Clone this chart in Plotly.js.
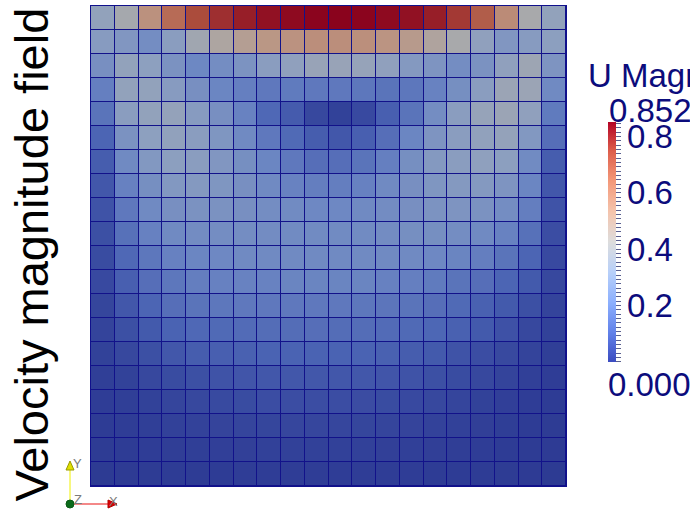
<!DOCTYPE html>
<html>
<head>
<meta charset="utf-8">
<script src="https://cdn.plot.ly/plotly-3.0.1.min.js"></script>
<style>
  html, body { margin: 0; padding: 0; background: #ffffff; }
  #chart { width: 690px; height: 516px; }
</style>
</head>
<body>
<div id="chart"></div>
<script>
// Velocity magnitude (U Magnitude) per cell, rows listed from top (lid) to bottom
const row00 = [0.34,0.41,0.55,0.665,0.74,0.785,0.81,0.83,0.84,0.85,0.852,0.85,0.84,0.83,0.81,0.77,0.70,0.57,0.42,0.34];
const row01 = [0.30,0.28,0.24,0.31,0.39,0.45,0.49,0.53,0.545,0.56,0.56,0.555,0.54,0.51,0.46,0.42,0.33,0.28,0.30,0.315];
const row02 = [0.25,0.34,0.32,0.26,0.215,0.24,0.265,0.31,0.33,0.36,0.36,0.35,0.33,0.29,0.27,0.24,0.26,0.33,0.38,0.27];
const row03 = [0.19,0.34,0.34,0.30,0.25,0.21,0.19,0.17,0.175,0.17,0.17,0.165,0.155,0.165,0.20,0.245,0.31,0.37,0.37,0.225];
const row04 = [0.155,0.31,0.34,0.345,0.30,0.25,0.20,0.12,0.085,0.035,0.02,0.04,0.095,0.155,0.24,0.31,0.35,0.37,0.33,0.175];
const row05 = [0.11,0.26,0.32,0.335,0.31,0.275,0.225,0.17,0.125,0.09,0.075,0.095,0.14,0.21,0.27,0.31,0.335,0.345,0.285,0.14];
const row06 = [0.09,0.225,0.285,0.315,0.31,0.28,0.245,0.21,0.17,0.14,0.14,0.155,0.19,0.245,0.29,0.31,0.325,0.315,0.23,0.09];
const row07 = [0.075,0.195,0.245,0.285,0.29,0.275,0.25,0.225,0.20,0.185,0.185,0.195,0.225,0.25,0.275,0.29,0.29,0.27,0.21,0.075];
const row08 = [0.065,0.17,0.225,0.25,0.26,0.26,0.25,0.24,0.23,0.22,0.22,0.225,0.235,0.25,0.265,0.27,0.26,0.24,0.185,0.065];
const row09 = [0.055,0.145,0.195,0.225,0.235,0.24,0.24,0.235,0.23,0.23,0.23,0.23,0.235,0.245,0.245,0.24,0.225,0.20,0.145,0.05];
const row10 = [0.045,0.12,0.165,0.195,0.21,0.22,0.225,0.225,0.225,0.225,0.225,0.225,0.225,0.225,0.22,0.205,0.185,0.155,0.11,0.04];
const row11 = [0.04,0.095,0.14,0.165,0.185,0.195,0.20,0.20,0.205,0.205,0.205,0.205,0.195,0.19,0.175,0.155,0.14,0.11,0.08,0.035];
const row12 = [0.03,0.075,0.11,0.14,0.155,0.165,0.17,0.17,0.17,0.17,0.17,0.165,0.16,0.155,0.14,0.125,0.10,0.08,0.055,0.025];
const row13 = [0.025,0.055,0.08,0.105,0.12,0.125,0.13,0.135,0.135,0.14,0.135,0.135,0.13,0.125,0.115,0.10,0.08,0.06,0.035,0.02];
const row14 = [0.02,0.035,0.055,0.075,0.09,0.095,0.10,0.105,0.105,0.105,0.105,0.105,0.10,0.09,0.08,0.065,0.05,0.038,0.025,0.012];
const row15 = [0.012,0.02,0.035,0.045,0.055,0.065,0.07,0.075,0.075,0.075,0.075,0.075,0.07,0.065,0.055,0.045,0.035,0.025,0.015,0.008];
const row16 = [0.008,0.012,0.02,0.028,0.035,0.042,0.045,0.05,0.05,0.05,0.05,0.048,0.045,0.04,0.035,0.028,0.02,0.014,0.008,0.004];
const row17 = [0.005,0.008,0.012,0.017,0.022,0.026,0.028,0.03,0.032,0.032,0.032,0.03,0.028,0.026,0.022,0.018,0.013,0.009,0.005,0.003];
const row18 = [0.003,0.005,0.007,0.01,0.012,0.014,0.016,0.017,0.018,0.018,0.018,0.017,0.016,0.015,0.013,0.01,0.007,0.005,0.003,0.002];
const row19 = [0.001,0.002,0.003,0.004,0.005,0.006,0.007,0.007,0.008,0.008,0.008,0.008,0.007,0.007,0.006,0.005,0.004,0.003,0.002,0.001];

const rangeMin = 0.0;
const rangeMax = 0.852;
const majorTicks = [0.2, 0.4, 0.6, 0.8];
const majorLabels = ['0.2', '0.4', '0.6', '0.8'];
const titleText = 'Velocity magnitude field';
const barTitle = 'U Magnitude';

const z = [row00,row01,row02,row03,row04,row05,row06,row07,row08,row09,
           row10,row11,row12,row13,row14,row15,row16,row17,row18,row19];

// ParaView "Cool to Warm"
const coolWarm = [
  [0.0,   'rgb(59,76,192)'],
  [0.125, 'rgb(98,130,234)'],
  [0.25,  'rgb(141,176,254)'],
  [0.375, 'rgb(184,208,249)'],
  [0.5,   'rgb(221,221,221)'],
  [0.625, 'rgb(244,196,173)'],
  [0.75,  'rgb(244,154,123)'],
  [0.875, 'rgb(222,96,77)'],
  [1.0,   'rgb(180,4,38)']
];

// colorbar ticks: 13 minor intervals per 0.2, labels only on majors
const tickvals = [], ticktext = [];
for (let k = 0; k * 0.2 / 13 <= rangeMax + 1e-9; k++) {
  const v = k * 0.2 / 13;
  tickvals.push(v);
  const mi = majorTicks.findIndex(m => Math.abs(m - v) < 1e-6);
  ticktext.push(mi >= 0 ? majorLabels[mi] : '');
}

const FONT = 'Liberation Sans, Arial, sans-serif';
const NAVY = '#0c0c7c';
const L = 91, R = 566, T = 6, B = 486;
const W = 690, H = 516;
const px = p => (p - L) / (R - L);
const py = p => (B - p) / (B - T);

const trace = {
  type: 'heatmap',
  z: z,
  zmin: rangeMin,
  zmax: rangeMax,
  colorscale: coolWarm,
  xgap: 1,
  ygap: 1,
  hoverinfo: 'skip',
  colorbar: {
    xref: 'container', yref: 'container',
    x: 608 / W, xanchor: 'left',
    y: (H - 363 - 26) / H, yanchor: 'bottom',
    len: 240, lenmode: 'pixels',
    thickness: 8, thicknessmode: 'pixels',
    xpad: 0, ypad: 0,
    outlinewidth: 0, borderwidth: 0,
    tickmode: 'array', tickvals: tickvals, ticktext: ticktext,
    ticks: 'outside', ticklen: 5, tickwidth: 1, tickcolor: '#5a6090',
    tickfont: {family: FONT, size: 33, color: NAVY}
  }
};

const shapes = [
  // shading of the rendered surface
  {type: 'rect', xref: 'paper', yref: 'paper', x0: 0, x1: 1, y0: 0, y1: 1,
   fillcolor: 'rgba(0,0,0,0.23)', line: {width: 0}, layer: 'above'},
  // orientation triad
  {type: 'line', xref: 'paper', yref: 'paper', x0: px(70), x1: px(70), y0: py(503), y1: py(469),
   line: {color: '#f0f000', width: 1}},
  {type: 'path', xref: 'paper', yref: 'paper',
   path: `M ${px(66)} ${py(470)} L ${px(74)} ${py(470)} L ${px(70)} ${py(461)} Z`,
   fillcolor: '#e0e000', line: {color: '#9a9a00', width: 1}},
  {type: 'line', xref: 'paper', yref: 'paper', x0: px(73), x1: px(108), y0: py(504), y1: py(504),
   line: {color: '#f48888', width: 2}},
  {type: 'path', xref: 'paper', yref: 'paper',
   path: `M ${px(108)} ${py(500)} L ${px(108)} ${py(508)} L ${px(117)} ${py(504)} Z`,
   fillcolor: '#e00000', line: {color: '#b00000', width: 1}},
  {type: 'circle', xref: 'paper', yref: 'paper', x0: px(66), x1: px(74), y0: py(508), y1: py(500),
   fillcolor: '#0a6a1a', line: {color: '#0a5a14', width: 1}}
];

const ann = (text, x, y, opts) => Object.assign({
  text: text, xref: 'paper', yref: 'paper', x: px(x), y: py(y),
  showarrow: false, borderpad: 0
}, opts);

const annotations = [
  ann(titleText, 30.5, 255, {xanchor: 'center', yanchor: 'middle', textangle: -90,
      font: {family: FONT, size: 47, color: '#000000'}}),
  ann(barTitle, 587, 75, {xanchor: 'left', yanchor: 'middle',
      font: {family: FONT, size: 33, color: NAVY}}),
  ann(rangeMax.toFixed(3), 608, 110.5, {xanchor: 'left', yanchor: 'middle',
      font: {family: FONT, size: 33, color: NAVY}}),
  ann(rangeMin.toFixed(3), 607, 384.5, {xanchor: 'left', yanchor: 'middle',
      font: {family: FONT, size: 33, color: NAVY}}),
  ann('X', 113, 501, {xanchor: 'center', yanchor: 'middle', font: {family: FONT, size: 13, color: '#7a7a7a'}}),
  ann('Y', 77, 463, {xanchor: 'center', yanchor: 'middle', font: {family: FONT, size: 13, color: '#7a7a7a'}}),
  ann('Z', 78, 499, {xanchor: 'center', yanchor: 'middle', font: {family: FONT, size: 13, color: '#7a7a7a'}})
];

const layout = {
  width: W, height: H,
  margin: {l: L, r: W - R, t: T, b: H - B, pad: 0, autoexpand: false},
  paper_bgcolor: '#ffffff',
  plot_bgcolor: '#1818b4',
  font: {family: FONT},
  xaxis: {range: [-0.5, 19.5], showticklabels: false, ticks: '', showgrid: false, zeroline: false,
          showline: true, mirror: true, linecolor: '#10108c', linewidth: 1, fixedrange: true},
  yaxis: {range: [19.5, -0.5], showticklabels: false, ticks: '', showgrid: false, zeroline: false,
          showline: true, mirror: true, linecolor: '#10108c', linewidth: 1, fixedrange: true},
  shapes: shapes,
  annotations: annotations,
  showlegend: false
};

Plotly.newPlot('chart', [trace], layout, {displayModeBar: false, staticPlot: true});
</script>
</body>
</html>
